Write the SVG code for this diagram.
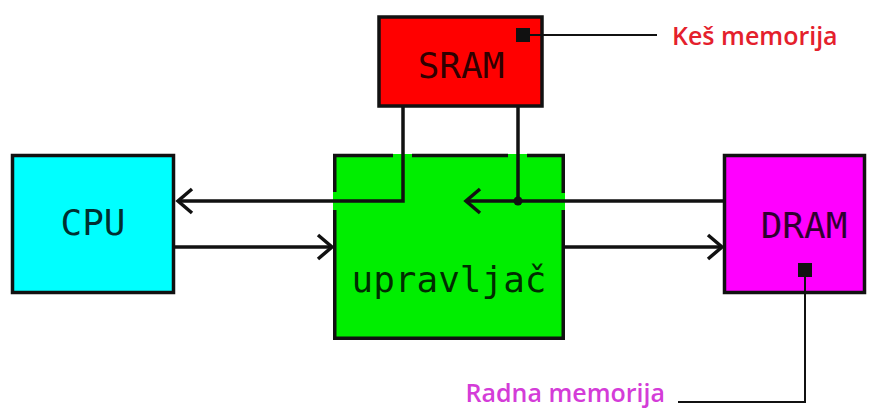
<svg xmlns="http://www.w3.org/2000/svg" width="876" height="414" viewBox="0 0 876 414">
<style>
.box{stroke:#111;stroke-width:3.5}
.lbl{font-family:"DejaVu Sans Mono","Liberation Mono",monospace;font-size:36px;fill:#000;fill-opacity:0.82;text-anchor:middle}
.wire{fill:none;stroke:#111;stroke-width:3.5}
.head{fill:none;stroke:#111;stroke-width:3.5;stroke-linejoin:miter}
.thin{fill:none;stroke:#111;stroke-width:2}
.note{font-family:"Open Sans","Liberation Sans",sans-serif;font-size:25px;font-weight:600}
</style>
<rect width="876" height="414" fill="#fff"/>
<g id="sram">
<rect class="box" x="379" y="17" width="163" height="89" fill="#ff0000"/>
<rect x="516" y="28" width="14" height="14" fill="#111"/>
<text class="lbl" x="461" y="78">SRAM</text>
</g>
<g id="cpu">
<rect class="box" x="12.5" y="155.5" width="161" height="137" fill="#00ffff"/>
<text class="lbl" x="93" y="235">CPU</text>
</g>
<g id="upravljac">
<rect x="333" y="154" width="232" height="186" fill="#00ee00"/>
<path class="wire" d="M333 155.5H393M412 155.5H508M527 155.5H565M334.75 154V192M334.75 210V340M563.25 154V193M563.25 210V340M333 338.25H565"/>
<text class="lbl" x="449" y="292">upravljač</text>
</g>
<g id="dram">
<rect class="box" x="724.5" y="155.5" width="140" height="137" fill="#ff00ff"/>
<rect x="798" y="263" width="14" height="14" fill="#111"/>
<text class="lbl" x="804" y="238">DRAM</text>
</g>
<g id="connectors">
<path class="wire" d="M403 106V201H178"/>
<polyline class="head" points="192,189 178,201 192,213"/>
<path class="wire" d="M175 247H332"/>
<polyline class="head" points="318,235 332,247 318,259"/>
<path class="wire" d="M565 247H722"/>
<polyline class="head" points="708,235 722,247 708,259"/>
<path class="wire" d="M723 201H466"/>
<polyline class="head" points="480,189 466,201 480,213"/>
<path class="wire" d="M518 106V201"/>
<circle cx="518" cy="201" r="4.5" fill="#111"/>
<path class="thin" d="M530 35H657"/>
<path class="thin" d="M805 277V402H678"/>
</g>
<g id="notes">
<text class="note" x="672" y="45" fill="#e4202c">Keš memorija</text>
<text class="note" x="665" y="402" fill="#d43cd8" text-anchor="end">Radna memorija</text>
</g>
</svg>
